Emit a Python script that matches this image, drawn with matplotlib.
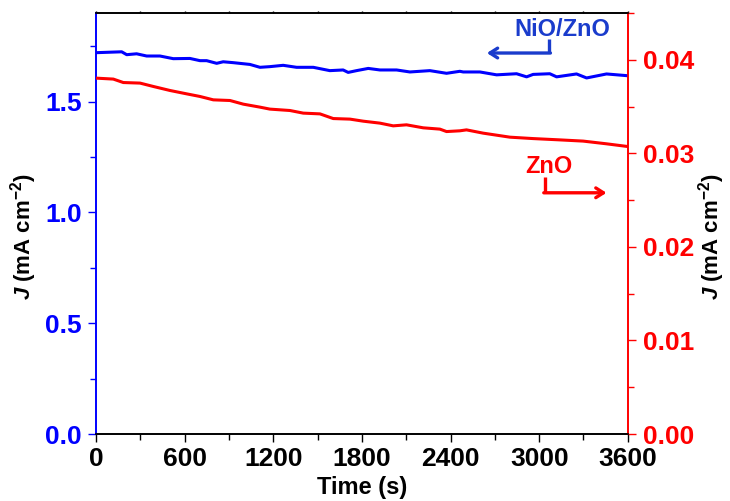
import matplotlib
matplotlib.use("Agg")
import matplotlib.pyplot as plt
from matplotlib.ticker import MultipleLocator, FormatStrFormatter

plt.rcParams["font.family"] = ["Liberation Sans", "DejaVu Sans"]
plt.rcParams["font.weight"] = "bold"
plt.rcParams["mathtext.fontset"] = "custom"
plt.rcParams["mathtext.rm"] = "Liberation Sans:bold"
plt.rcParams["mathtext.it"] = "Liberation Sans:italic:bold"
plt.rcParams["mathtext.bf"] = "Liberation Sans:bold"

# NiO/ZnO photocurrent (left axis, mA cm-2)
t_nio = [0, 174, 208, 275, 343, 433, 523, 636, 704, 749, 817, 861, 929, 1042,
         1110, 1177, 1267, 1358, 1471, 1583, 1673, 1707, 1764, 1843, 1922, 2035,
         2125, 2260, 2373, 2463, 2486, 2599, 2712, 2847, 2915, 2959, 3072, 3118,
         3253, 3321, 3456, 3600]
j_nio = [1.721, 1.725, 1.712, 1.716, 1.706, 1.706, 1.694, 1.695, 1.685, 1.685,
         1.673, 1.680, 1.676, 1.668, 1.655, 1.658, 1.664, 1.655, 1.655, 1.640,
         1.643, 1.632, 1.640, 1.650, 1.643, 1.643, 1.634, 1.640, 1.628, 1.637,
         1.634, 1.634, 1.621, 1.626, 1.612, 1.623, 1.626, 1.612, 1.625, 1.607,
         1.625, 1.617]

# ZnO photocurrent (right axis, mA cm-2)
t_zno = [0, 117, 185, 298, 388, 501, 614, 704, 794, 907, 997, 1110, 1177, 1313,
         1403, 1516, 1606, 1719, 1809, 1922, 2012, 2102, 2215, 2328, 2373, 2463,
         2508, 2621, 2802, 2959, 3140, 3298, 3456, 3600]
j_zno = [0.03804, 0.03794, 0.03757, 0.03751, 0.03715, 0.03672, 0.03636, 0.03608,
         0.03572, 0.03565, 0.03526, 0.03494, 0.03473, 0.03458, 0.03430, 0.03422,
         0.03372, 0.03366, 0.03344, 0.03323, 0.03294, 0.03305, 0.03273, 0.03259,
         0.03233, 0.03241, 0.03251, 0.03216, 0.03173, 0.03158, 0.03144, 0.03131,
         0.03102, 0.03073]

BLUE, RED = "#0000ff", "#ff0000"
ANN_BLUE = "#1a3ccc"
FS_TICK, FS_LAB, FS_ANN = 19, 16, 17

fig = plt.figure(figsize=(7.30, 5.01), dpi=100)
ax = fig.add_axes([0.1315, 0.1337, 0.7285, 0.8403])
ax2 = ax.twinx()

ax.plot(t_nio, j_nio, color=BLUE, lw=2.2, zorder=3)
ax2.plot(t_zno, j_zno, color=RED, lw=2.2, zorder=3)

ax.set_xlim(0, 3600)
ax.set_ylim(0, 1.9)
ax2.set_ylim(0, 0.045)

ax.xaxis.set_major_locator(MultipleLocator(600))
ax.xaxis.set_minor_locator(MultipleLocator(300))
ax.yaxis.set_major_locator(MultipleLocator(0.5))
ax.yaxis.set_minor_locator(MultipleLocator(0.25))
ax.yaxis.set_major_formatter(FormatStrFormatter("%.1f"))
ax2.yaxis.set_major_locator(MultipleLocator(0.01))
ax2.yaxis.set_minor_locator(MultipleLocator(0.005))
ax2.yaxis.set_major_formatter(FormatStrFormatter("%.2f"))

for a in (ax, ax2):
    for s in a.spines.values():
        s.set_linewidth(1.2)
ax.spines["left"].set_color(BLUE)
ax2.spines["left"].set_color(BLUE)
ax.spines["right"].set_color(RED)
ax2.spines["right"].set_color(RED)

ax.tick_params(axis="x", which="major", length=6, width=1, direction="out",
               labelsize=FS_TICK, pad=3)
ax.tick_params(axis="x", which="minor", length=4, width=1, direction="out")
# tiny mirrored ticks on the top spine
ax.tick_params(axis="x", which="both", top=True, labeltop=False)
for tk in ax.xaxis.get_major_ticks() + ax.xaxis.get_minor_ticks():
    tk.tick2line.set_markersize(1.5)
ax.tick_params(axis="y", which="major", length=6, width=1, direction="out",
               labelsize=FS_TICK, labelcolor=BLUE, color=BLUE, pad=4)
ax.tick_params(axis="y", which="minor", length=4, width=1, direction="out", color=BLUE)
ax2.tick_params(axis="y", which="major", length=6, width=1, direction="out",
                labelsize=FS_TICK, labelcolor=RED, color=RED, pad=5)
ax2.tick_params(axis="y", which="minor", length=4, width=1, direction="out", color=RED)

for lbl in ax.get_xticklabels() + ax.get_yticklabels() + ax2.get_yticklabels():
    lbl.set_fontweight("bold")

ax.set_xlabel("Time (s)", fontsize=17, fontweight="bold")
ax.xaxis.set_label_coords(0.5, -0.1)
ax.set_ylabel(r"$J$ (mA cm$^{-2}$)", fontsize=FS_LAB, fontweight="bold")
ax.yaxis.set_label_coords(-0.108, 0.47)
ax2.set_ylabel(r"$J$ (mA cm$^{-2}$)", fontsize=FS_LAB, fontweight="bold", rotation=90)
ax2.yaxis.set_label_coords(1.128, 0.47)

# Annotations with elbow arrows (axes fraction coordinates)
tr = ax.transAxes
ax.text(0.876, 0.962, "NiO/ZnO", transform=tr, color=ANN_BLUE, fontsize=FS_ANN,
        fontweight="bold", ha="center", va="center")
ax.plot([0.8515, 0.8515], [0.938, 0.905], color=ANN_BLUE, lw=2.4, transform=tr,
        solid_capstyle="butt")
ax.annotate("", xy=(0.735, 0.905), xytext=(0.8545, 0.905), xycoords=tr, textcoords=tr,
            arrowprops=dict(arrowstyle="->,head_length=0.55,head_width=0.35",
                            color=ANN_BLUE, lw=2.4, shrinkA=0, shrinkB=0))

ax.text(0.8515, 0.635, "ZnO", transform=tr, color=RED, fontsize=FS_ANN,
        fontweight="bold", ha="center", va="center")
ax.plot([0.845, 0.845], [0.611, 0.573], color=RED, lw=2.4, transform=tr,
        solid_capstyle="butt")
ax.annotate("", xy=(0.96, 0.573), xytext=(0.842, 0.573), xycoords=tr, textcoords=tr,
            arrowprops=dict(arrowstyle="->,head_length=0.55,head_width=0.35",
                            color=RED, lw=2.4, shrinkA=0, shrinkB=0))

fig.savefig("out.png", dpi=100)
